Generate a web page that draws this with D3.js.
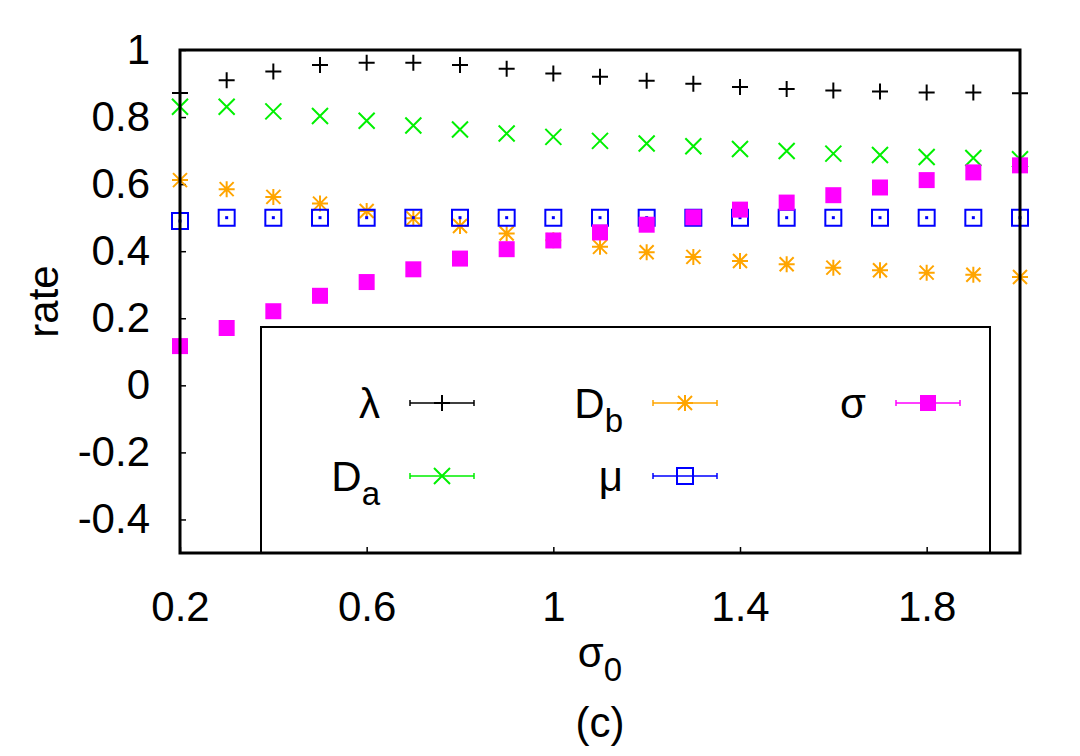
<!DOCTYPE html>
<html>
<head>
<meta charset="utf-8">
<script src="https://cdn.jsdelivr.net/npm/d3@7"></script>
<style>
  body { margin: 0; background: #fff; }
  text { font-family: "Liberation Sans", Arial, Helvetica, sans-serif; }
</style>
</head>
<body>
<script>
// values
const sigma0 = [0.2, 0.3, 0.4, 0.5, 0.6, 0.7, 0.8, 0.9, 1.0, 1.1, 1.2, 1.3, 1.4, 1.5, 1.6, 1.7, 1.8, 1.9, 2.0];
const lambdaRate = [0.872, 0.910, 0.936, 0.955, 0.962, 0.962, 0.955, 0.944, 0.930, 0.920, 0.908, 0.899, 0.890, 0.884, 0.879, 0.876, 0.873, 0.873, 0.871];
const daRate = [0.831, 0.831, 0.817, 0.803, 0.789, 0.775, 0.763, 0.751, 0.741, 0.729, 0.721, 0.713, 0.705, 0.699, 0.691, 0.687, 0.681, 0.678, 0.674];
const dbRate = [0.612, 0.585, 0.562, 0.542, 0.520, 0.498, 0.475, 0.453, 0.433, 0.413, 0.397, 0.383, 0.371, 0.361, 0.351, 0.343, 0.336, 0.330, 0.323];
const muRate = [0.490, 0.5, 0.5, 0.5, 0.5, 0.5, 0.5, 0.5, 0.5, 0.5, 0.5, 0.5, 0.5, 0.5, 0.5, 0.5, 0.5, 0.5, 0.5];
const sigmaRate = [0.117, 0.171, 0.221, 0.267, 0.308, 0.346, 0.378, 0.406, 0.432, 0.456, 0.479, 0.501, 0.524, 0.545, 0.567, 0.590, 0.612, 0.635, 0.656];

const xTicks = [0.2, 0.6, 1.0, 1.4, 1.8];
const yTicks = [-0.4, -0.2, 0, 0.2, 0.4, 0.6, 0.8, 1];

// series, in plot order
const series = [
  {name: "λ", sub: "", values: lambdaRate, color: "#000000", marker: "plus"},
  {name: "D", sub: "a", values: daRate, color: "#00f000", marker: "cross"},
  {name: "D", sub: "b", values: dbRate, color: "#ffa500", marker: "star"},
  {name: "μ", sub: "", values: muRate, color: "#0000ff", marker: "box"},
  {name: "σ", sub: "", values: sigmaRate, color: "#ff00ff", marker: "boxfill"}
];

const W = 1080, H = 756;
const plotL = 180, plotR = 1020, plotT = 50, plotB = 553;
const fontSize = 42;

let svg = d3.select("body")
  .append("svg")
    .attr("width", W)
    .attr("height", H);

let x = d3.scaleLinear().domain([0.2, 2.0]).range([plotL, plotR]);
let y = d3.scaleLinear().domain([-0.5, 1]).range([plotB, plotT]);

// marker path, centred on 0,0
function markerPath(type){
  let h = 8;
  if(type == "plus") return `M${-h},0H${h}M0,${-h}V${h}`;
  if(type == "cross") return `M${-h},${-h}L${h},${h}M${-h},${h}L${h},${-h}`;
  if(type == "star") return `M${-h},0H${h}M0,${-h}V${h}M-7,-7L7,7M-7,7L7,-7`;
  return `M${-h},${-h}H${h}V${h}H${-h}Z`;
}

function drawMarker(g, type, color){
  if(type == "boxfill"){
    g.append("path").attr("d", markerPath(type)).attr("fill", color);
  } else {
    g.append("path")
      .attr("d", markerPath(type))
      .attr("fill", "none")
      .attr("stroke", color)
      .attr("stroke-width", 2);
  }
}

// axes (inward ticks, no mirror)
let yAxis = svg.append("g")
  .attr("transform", `translate(${plotL},0)`)
  .call(d3.axisLeft(y).tickValues(yTicks).tickSizeInner(-6).tickSizeOuter(0).tickPadding(30).tickFormat(d => String(d)));

let xAxis = svg.append("g")
  .attr("transform", `translate(0,${plotB})`)
  .call(d3.axisBottom(x).tickValues(xTicks).tickSizeInner(-6).tickSizeOuter(0).tickPadding(38).tickFormat(d => String(d)));

[yAxis, xAxis].forEach(function(a){
  a.select(".domain").remove();
  a.selectAll(".tick line").attr("stroke", "#000").attr("stroke-width", 1.5);
  a.selectAll(".tick text")
    .attr("fill", "#000")
    .style("font-size", fontSize + "px")
    .style("font-family", '"Liberation Sans", Arial, sans-serif');
});

// points
series.forEach(function(s){
  svg.append("g").selectAll("g").data(s.values)
    .enter()
      .append("g")
      .attr("transform", (d, i) => `translate(${x(sigma0[i])},${y(d)})`)
      .each(function(){
        drawMarker(d3.select(this), s.marker, s.color);
        if(s.marker == "box"){
          d3.select(this).append("rect")
            .attr("x", -1.5).attr("y", -1.5)
            .attr("width", 3).attr("height", 3)
            .attr("fill", s.color);
        }
      });
});

// frame
svg.append("rect")
  .attr("x", plotL).attr("y", plotT)
  .attr("width", plotR - plotL).attr("height", plotB - plotT)
  .attr("fill", "none")
  .attr("stroke", "#000")
  .attr("stroke-width", 3);

// key
svg.append("rect")
  .attr("x", 261).attr("y", 327)
  .attr("width", 729).attr("height", plotB - 327)
  .attr("fill", "none")
  .attr("stroke", "#000")
  .attr("stroke-width", 2);

let keyCols = [380, 623, 866];
let keyRows = [403, 476];

series.forEach(function(s, i){
  let col = Math.floor(i / 2), row = i % 2;
  let tx = keyCols[col], ty = keyRows[row];
  let k = svg.append("g");

  let t = k.append("text")
    .attr("x", tx).attr("y", ty + 15)
    .attr("text-anchor", "end")
    .style("font-size", fontSize + "px")
    .text(s.name);
  if(s.sub){
    t.append("tspan")
      .attr("dy", 14)
      .style("font-size", "33px")
      .text(s.sub);
  }

  let x1 = tx + 30, x2 = tx + 94;
  k.append("path")
    .attr("d", `M${x1},${ty}H${x2}M${x1},${ty - 3}V${ty + 3}M${x2},${ty - 3}V${ty + 3}`)
    .attr("stroke", s.color)
    .attr("stroke-width", 1.5)
    .attr("fill", "none");

  let m = k.append("g").attr("transform", `translate(${(x1 + x2) / 2},${ty})`);
  drawMarker(m, s.marker, s.color);
});

// axis titles
svg.append("text")
  .attr("transform", `translate(58,${(plotT + plotB) / 2}) rotate(-90)`)
  .attr("text-anchor", "middle")
  .style("font-size", fontSize + "px")
  .text("rate");

let xl = svg.append("text")
  .attr("x", 600).attr("y", 667)
  .attr("text-anchor", "middle")
  .style("font-size", fontSize + "px")
  .text("σ");
xl.append("tspan").attr("dy", 14).style("font-size", "33px").text("0");

svg.append("text")
  .attr("x", 600).attr("y", 737)
  .attr("text-anchor", "middle")
  .style("font-size", fontSize + "px")
  .text("(c)");
</script>
</body>
</html>
